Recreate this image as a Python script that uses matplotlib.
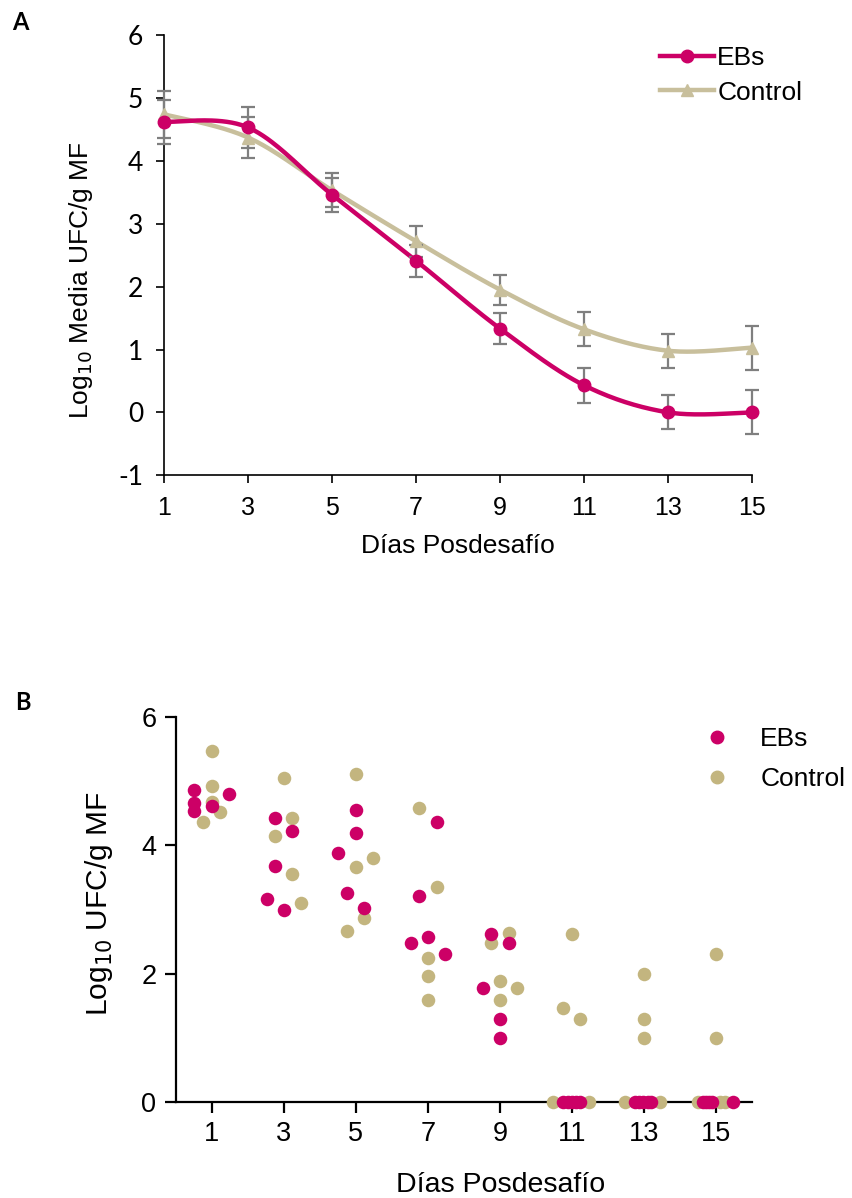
import numpy as np
import matplotlib
matplotlib.use("Agg")
import matplotlib.pyplot as plt
from matplotlib.lines import Line2D

plt.rcParams['font.family'] = ['Liberation Sans', 'DejaVu Sans']
plt.rcParams['axes.unicode_minus'] = False

# ---------------- Panel A: mean counts with SE ----------------
days = [1, 3, 5, 7, 9, 11, 13, 15]
ebs_mean = [4.62, 4.53, 3.46, 2.41, 1.33, 0.43, 0.0, 0.0]
ebs_err = [0.35, 0.33, 0.27, 0.25, 0.25, 0.28, 0.27, 0.35]
ctrl_mean = [4.74, 4.37, 3.53, 2.72, 1.95, 1.32, 0.98, 1.03]
ctrl_err = [0.37, 0.33, 0.27, 0.25, 0.24, 0.27, 0.27, 0.35]

# ---------------- Panel B: individual animals ----------------
ebs_x = [0.52, 0.52, 0.52, 1.0, 1.48,
         2.76, 3.24, 2.76, 2.52, 3.0,
         5.0, 5.0, 4.51, 4.75, 5.23,
         7.24, 6.75, 6.52, 7.0, 7.48,
         8.76, 9.24, 8.52, 9.0, 9.0,
         10.75, 10.88, 11.0, 11.12, 11.23,
         12.74, 12.86, 12.98, 13.1, 13.19,
         14.64, 14.72, 14.8, 14.89, 15.47]
ebs_y = [4.87, 4.67, 4.54, 4.61, 4.81,
         4.43, 4.23, 3.68, 3.17, 2.99,
         4.55, 4.20, 3.88, 3.26, 3.03,
         4.37, 3.21, 2.47, 2.57, 2.31,
         2.61, 2.47, 1.77, 1.29, 1.0,
         0, 0, 0, 0, 0,
         0, 0, 0, 0, 0,
         0, 0, 0, 0, 0]
ctrl_x = [1.0, 1.0, 1.0, 1.23, 0.75,
          3.0, 3.24, 2.76, 3.24, 3.48,
          5.0, 5.48, 5.0, 5.23, 4.75,
          6.75, 7.24, 7.0, 7.0, 7.0,
          9.24, 8.76, 9.0, 9.48, 9.0,
          10.99, 10.75, 11.23, 10.47, 11.47,
          13.0, 13.0, 13.0, 12.46, 13.45,
          15.0, 15.0, 14.5, 15.1, 15.24]
ctrl_y = [5.48, 4.93, 4.68, 4.52, 4.36,
          5.06, 4.43, 4.14, 3.55, 3.10,
          5.11, 3.80, 3.66, 2.87, 2.66,
          4.58, 3.35, 2.25, 1.96, 1.59,
          2.64, 2.47, 1.89, 1.77, 1.59,
          2.61, 1.46, 1.29, 0, 0,
          2.0, 1.29, 1.0, 0, 0,
          2.31, 1.0, 0, 0, 0]

series_names = ["EBs", "Control"]
day_ticks = [1, 3, 5, 7, 9, 11, 13, 15]

C_EBS = "#CC0066"
C_CTRL_LINE = "#C8BF9C"
C_CTRL_DOT = "#C3B57F"
C_ERR = "#7F7F7F"


def smooth_curve(x, y, n=40):
    """Cardinal (Catmull-Rom) spline through the points, ends repeated."""
    x = np.asarray(x, float)
    y = np.asarray(y, float)
    px = np.concatenate([[x[0]], x, [x[-1]]])
    py = np.concatenate([[y[0]], y, [y[-1]]])
    xs, ys = [], []
    t = np.linspace(0, 1, n)
    for i in range(1, len(px) - 2):
        for arr, a in ((xs, px), (ys, py)):
            a0, a1, a2, a3 = a[i - 1], a[i], a[i + 1], a[i + 2]
            arr.extend(0.5 * ((2 * a1) + (-a0 + a2) * t
                              + (2 * a0 - 5 * a1 + 4 * a2 - a3) * t ** 2
                              + (-a0 + 3 * a1 - 3 * a2 + a3) * t ** 3))
    return np.array(xs), np.array(ys)


fig = plt.figure(figsize=(8.52, 11.98), dpi=100)

# ---------- Panel A ----------
axA = fig.add_axes([164 / 852, 1 - 475.3 / 1198, 588.3 / 852, 440.3 / 1198])

for mean, err, col, mk in ((ctrl_mean, ctrl_err, C_CTRL_LINE, '^'),
                           (ebs_mean, ebs_err, C_EBS, 'o')):
    sx, sy = smooth_curve(days, mean)
    axA.plot(sx, sy, color=col, lw=3.2, zorder=3, solid_capstyle='round', clip_on=False)
    axA.errorbar(days, mean, yerr=err, fmt='none', ecolor=C_ERR, elinewidth=1.6,
                 capsize=5, capthick=1.6, zorder=4, clip_on=False)
    axA.plot(days, mean, linestyle='none', marker=mk, ms=9, color=col, zorder=5,
             clip_on=False)

axA.set_xlim(1, 15)
axA.set_ylim(-1, 6)
axA.set_xticks(day_ticks)
axA.set_yticks(range(-1, 7))
for s in ('top', 'right'):
    axA.spines[s].set_visible(False)
for s in ('left', 'bottom'):
    axA.spines[s].set_linewidth(1.2)
axA.tick_params(direction='out', length=6, width=1.2, labelsize=18, pad=9)
for lab in axA.get_yticklabels():
    lab.set_fontfamily(['Lato', 'DejaVu Sans'])
    lab.set_fontsize(19)
axA.set_xlabel("Días Posdesafío", fontsize=19, labelpad=10)
axA.set_ylabel(r"Log$_{10}$ Media UFC/g MF", fontsize=19)
axA.yaxis.set_label_coords(-0.118, 0.444)

handlesA = [Line2D([], [], color=C_EBS, lw=3.2, marker='o', ms=9),
            Line2D([], [], color=C_CTRL_LINE, lw=3.2, marker='^', ms=9)]
axA.legend(handlesA, series_names, loc='upper left',
           bbox_to_anchor=(660 / 852, 1 - 46 / 1198), bbox_transform=fig.transFigure,
           frameon=False, fontsize=19, handlelength=2.05, handletextpad=0.12,
           borderpad=0, borderaxespad=0, labelspacing=0.4)

fig.text(12 / 852, 1 - 22 / 1198, "A", fontsize=17, fontweight='bold',
         family=['Lato', 'DejaVu Sans'], va='center', ha='left')

# ---------- Panel B ----------
axB = fig.add_axes([175.7 / 852, 1 - 1101.7 / 1198, 576.6 / 852, 384.4 / 1198])
axB.scatter(ctrl_x, ctrl_y, s=95, color=C_CTRL_DOT, linewidths=0, zorder=3,
            clip_on=False, label=series_names[1])
axB.scatter(ebs_x, ebs_y, s=95, color=C_EBS, linewidths=0, zorder=4,
            clip_on=False, label=series_names[0])
axB.set_xlim(0, 16)
axB.set_ylim(0, 6)
axB.set_xticks(day_ticks)
axB.set_yticks([0, 2, 4, 6])
for s in ('top', 'right'):
    axB.spines[s].set_visible(False)
for s in ('left', 'bottom'):
    axB.spines[s].set_linewidth(1.6)
axB.tick_params(direction='out', length=8, width=1.6, labelsize=19.5, pad=6)
axB.set_ylabel(r"Log$_{10}$ UFC/g MF", fontsize=21.5)
axB.yaxis.set_label_coords(-0.105, 0.514)
axB.set_xlabel("Días Posdesafío", fontsize=20.5)
axB.xaxis.set_label_coords(0.564, -0.182)

handlesB = [Line2D([], [], linestyle='none', marker='o', ms=9, color=C_EBS),
            Line2D([], [], linestyle='none', marker='o', ms=9, color=C_CTRL_DOT)]
axB.legend(handlesB, series_names, loc='upper left',
           bbox_to_anchor=(693 / 852, 1 - 727 / 1198), bbox_transform=fig.transFigure,
           frameon=False, fontsize=19, handlelength=1.8, handletextpad=0.75,
           borderpad=0, borderaxespad=0, labelspacing=0.62)

fig.text(15 / 852, 1 - 702 / 1198, "B", fontsize=17, fontweight='bold',
         family=['Lato', 'DejaVu Sans'], va='center', ha='left')

fig.savefig("out.png", dpi=100)
